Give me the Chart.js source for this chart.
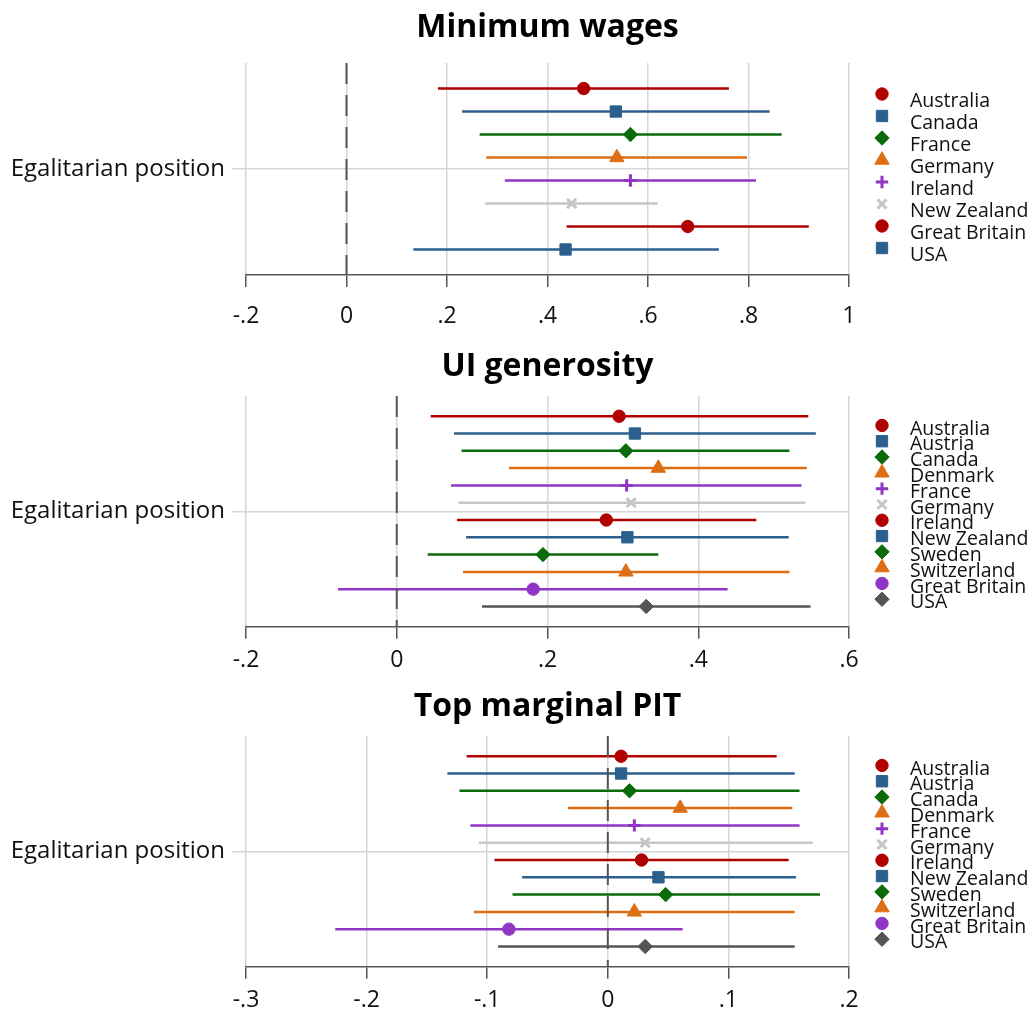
<!DOCTYPE html>
<html><head><meta charset="utf-8">
<script src="https://cdn.jsdelivr.net/npm/chart.js@4.4.1/dist/chart.umd.min.js"></script>
<style>
html,body{margin:0;padding:0;background:#fff;}
#wrap{position:relative;width:1033px;height:1012px;overflow:hidden;}
canvas{position:absolute;left:0;}
</style></head><body><div id="wrap">
<canvas id="c1" width="1033" height="335" style="top:0px"></canvas>
<canvas id="c2" width="1033" height="340" style="top:335px"></canvas>
<canvas id="c3" width="1033" height="337" style="top:675px"></canvas>
</div>
<script>
// ---------- DATA ----------
const yLabel = 'Egalitarian position';

const mwTitle = 'Minimum wages';
const mwCountries = ['Australia','Canada','France','Germany','Ireland','New Zealand','Great Britain','USA'];
const mwEst = [0.472, 0.536, 0.565, 0.538, 0.565, 0.448, 0.679, 0.436];
const mwLo  = [0.182, 0.230, 0.265, 0.278, 0.315, 0.276, 0.438, 0.133];
const mwHi  = [0.761, 0.842, 0.866, 0.797, 0.815, 0.619, 0.920, 0.741];
const mwTicks = [-0.2, 0, 0.2, 0.4, 0.6, 0.8, 1];
const mwTickLabels = ['-.2', '0', '.2', '.4', '.6', '.8', '1'];

const uiTitle = 'UI generosity';
const uiCountries = ['Australia','Austria','Canada','Denmark','France','Germany','Ireland','New Zealand','Sweden','Switzerland','Great Britain','USA'];
const uiEst = [0.295, 0.316, 0.304, 0.347, 0.305, 0.311, 0.278, 0.306, 0.194, 0.304, 0.181, 0.331];
const uiLo  = [0.045, 0.076, 0.086, 0.149, 0.072, 0.082, 0.080, 0.092, 0.041, 0.088, -0.078, 0.113];
const uiHi  = [0.546, 0.556, 0.521, 0.544, 0.537, 0.542, 0.477, 0.520, 0.347, 0.521, 0.439, 0.549];
const uiTicks = [-0.2, 0, 0.2, 0.4, 0.6];
const uiTickLabels = ['-.2', '0', '.2', '.4', '.6'];

const pitTitle = 'Top marginal PIT';
const pitCountries = ['Australia','Austria','Canada','Denmark','France','Germany','Ireland','New Zealand','Sweden','Switzerland','Great Britain','USA'];
const pitEst = [0.011, 0.011, 0.018, 0.060, 0.022, 0.031, 0.028, 0.042, 0.048, 0.022, -0.082, 0.031];
const pitLo  = [-0.117, -0.133, -0.123, -0.033, -0.114, -0.107, -0.094, -0.071, -0.079, -0.111, -0.226, -0.091];
const pitHi  = [0.140, 0.155, 0.159, 0.153, 0.159, 0.170, 0.150, 0.156, 0.176, 0.155, 0.062, 0.155];
const pitTicks = [-0.3, -0.2, -0.1, 0, 0.1, 0.2];
const pitTickLabels = ['-.3', '-.2', '-.1', '0', '.1', '.2'];

// ---------- STYLE ----------
const FONT = '"Open Sans", "Noto Sans", sans-serif';
const RED='#b10000', BLUE='#2b5f8e', GREEN='#0b6b0b', ORANGE='#de6e14', PURPLE='#9035c4', LGRAY='#c6c6c6', DGRAY='#545454';
const seriesStyles = [
  {c:RED, s:'circle', r:6.2, bw:1},
  {c:BLUE, s:'rect', r:8, bw:1},
  {c:GREEN, s:'rectRot', r:7.2, bw:1},
  {c:ORANGE, s:'triangle', r:8.3, bw:1},
  {c:PURPLE, s:'cross', r:6.2, bw:3},
  {c:LGRAY, s:'crossRot', r:6.5, bw:3},
  {c:RED, s:'circle', r:6.2, bw:1},
  {c:BLUE, s:'rect', r:8, bw:1},
  {c:GREEN, s:'rectRot', r:7.2, bw:1},
  {c:ORANGE, s:'triangle', r:8.3, bw:1},
  {c:PURPLE, s:'circle', r:6.2, bw:1},
  {c:DGRAY, s:'rectRot', r:7.2, bw:1}
];

function drawMarker(ctx, st, x, y) {
  const r = st.r;
  ctx.save();
  ctx.fillStyle = st.c; ctx.strokeStyle = st.c; ctx.lineWidth = st.bw;
  ctx.beginPath();
  if (st.s === 'circle') { ctx.arc(x, y, r, 0, Math.PI*2); }
  else if (st.s === 'rect') { const h = r*Math.SQRT1_2; ctx.rect(x-h, y-h, 2*h, 2*h); }
  else if (st.s === 'rectRot') { ctx.moveTo(x, y-r); ctx.lineTo(x+r, y); ctx.lineTo(x, y+r); ctx.lineTo(x-r, y); ctx.closePath(); }
  else if (st.s === 'triangle') { ctx.moveTo(x, y-r); ctx.lineTo(x+r*Math.sin(2*Math.PI/3), y+r*0.5); ctx.lineTo(x-r*Math.sin(2*Math.PI/3), y+r*0.5); ctx.closePath(); }
  else if (st.s === 'cross') { ctx.moveTo(x, y-r); ctx.lineTo(x, y+r); ctx.moveTo(x-r, y); ctx.lineTo(x+r, y); }
  else if (st.s === 'crossRot') { const d = r*Math.SQRT1_2; ctx.moveTo(x-d, y-d); ctx.lineTo(x+d, y+d); ctx.moveTo(x+d, y-d); ctx.lineTo(x-d, y+d); }
  if (st.s !== 'cross' && st.s !== 'crossRot') ctx.fill();
  ctx.stroke();
  ctx.restore();
}

function makePanel(id, cfg) {
  const n = cfg.countries.length;
  const center = (n - 1) / 2;
  const yMin = -cfg.pad, yMax = n - 1 + cfg.pad;
  const datasets = [{
    data: [{x: 0, y: yMin}, {x: 0, y: yMax}],
    showLine: true, borderColor: '#555555', borderWidth: 2, borderDash: [21, 11],
    pointRadius: 0, pointHoverRadius: 0, pointHitRadius: 0
  }];
  cfg.countries.forEach((name, i) => {
    const st = seriesStyles[i];
    datasets.push({
      label: name,
      data: [{x: cfg.lo[i], y: i}, {x: cfg.est[i], y: i}, {x: cfg.hi[i], y: i}],
      showLine: true, borderColor: st.c, backgroundColor: st.c, borderWidth: 2.5,
      pointStyle: st.s,
      pointRadius: c => c.dataIndex === 1 ? st.r : 0,
      pointBorderWidth: st.bw, pointBackgroundColor: st.c, pointBorderColor: st.c,
      pointHoverRadius: 0, pointHitRadius: 0, clip: false
    });
  });
  const overlay = {
    id: 'overlay',
    afterDraw(chart) {
      const ctx = chart.ctx, ca = chart.chartArea;
      ctx.save();
      ctx.fillStyle = '#000';
      ctx.font = 'bold 32px ' + FONT;
      ctx.textAlign = 'center'; ctx.textBaseline = 'middle';
      ctx.fillText(cfg.title, (ca.left + ca.right) / 2, cfg.titleY);
      const yc = chart.scales.y.getPixelForValue(center) + cfg.legShift;
      ctx.font = '19.5px ' + FONT;
      ctx.textAlign = 'left'; ctx.fillStyle = '#111';
      cfg.countries.forEach((name, i) => {
        const my = yc + (i - center) * cfg.legStep;
        drawMarker(ctx, seriesStyles[i], 882, my);
        ctx.fillText(name, 910, my + cfg.legOff);
      });
      ctx.restore();
    }
  };
  return new Chart(document.getElementById(id), {
    type: 'scatter',
    data: {datasets},
    plugins: [overlay],
    options: {
      responsive: false, animation: false, events: [],
      layout: {padding: {left: 0, right: 184, top: cfg.top, bottom: 0}},
      plugins: {legend: {display: false}, tooltip: {enabled: false}, title: {display: false}},
      scales: {
        x: {
          type: 'linear', min: cfg.ticks[0], max: cfg.ticks[cfg.ticks.length - 1],
          afterBuildTicks: ax => { ax.ticks = cfg.ticks.map(v => ({value: v})); },
          afterFit: ax => { ax.height = cfg.xh; },
          ticks: {callback: (v, i) => cfg.tickLabels[i], font: {family: FONT, size: 23}, color: '#111', padding: cfg.xpad, maxRotation: 0, autoSkip: false},
          grid: {color: '#d6d6d6', lineWidth: 1.5, tickLength: 12, tickColor: '#555555', tickWidth: 1.5},
          border: {color: '#555555', width: 1.5}
        },
        y: {
          type: 'linear', reverse: true, min: yMin, max: yMax,
          afterBuildTicks: ax => { ax.ticks = [{value: center}]; },
          afterFit: ax => { ax.width = 246; },
          ticks: {callback: () => yLabel, font: {family: FONT, size: 24}, color: '#111', padding: 7},
          grid: {color: '#d6d6d6', lineWidth: 1.5, tickLength: 14, tickColor: '#d6d6d6'},
          border: {display: false}
        }
      }
    }
  });
}

function build() {
  makePanel('c1', {title: mwTitle, countries: mwCountries, est: mwEst, lo: mwLo, hi: mwHi, ticks: mwTicks, tickLabels: mwTickLabels,
    pad: 1.11, top: 63, xh: 60, xpad: 16, titleY: 28, legStep: 22, legOff: 7, legShift: 2});
  makePanel('c2', {title: uiTitle, countries: uiCountries, est: uiEst, lo: uiLo, hi: uiHi, ticks: uiTicks, tickLabels: uiTickLabels,
    pad: 1.17, top: 61, xh: 48.3, xpad: 8, titleY: 32, legStep: 15.8, legOff: 3.5, legShift: 1});
  makePanel('c3', {title: pitTitle, countries: pitCountries, est: pitEst, lo: pitLo, hi: pitHi, ticks: pitTicks, tickLabels: pitTickLabels,
    pad: 1.17, top: 61, xh: 45.3, xpad: 8, titleY: 32, legStep: 15.8, legOff: 3.5, legShift: 1});
}
if (document.fonts && document.fonts.load) {
  Promise.all([document.fonts.load('22px "Open Sans"'), document.fonts.load('bold 30px "Open Sans"')]).then(build, build);
} else { build(); }
</script>
</body></html>
